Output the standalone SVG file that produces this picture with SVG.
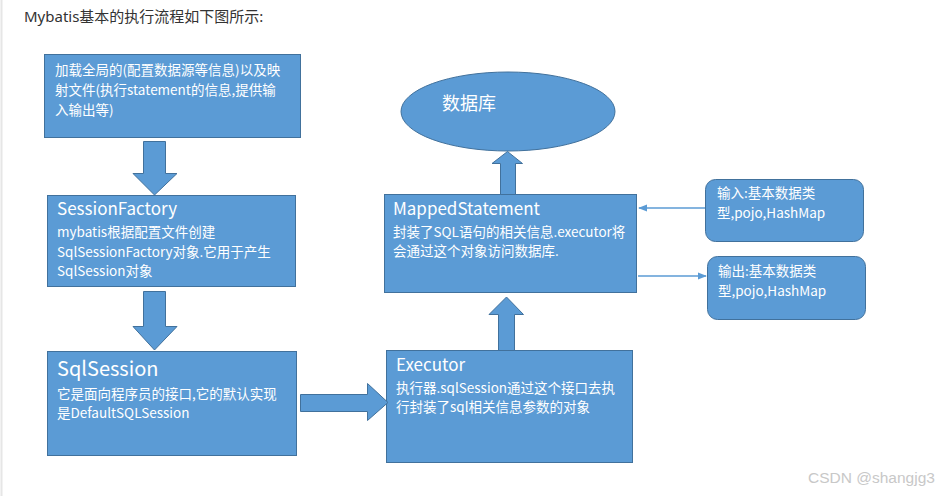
<svg xmlns="http://www.w3.org/2000/svg" width="941" height="496" viewBox="0 0 941 496">
<defs>
<style>
.shape{fill:#5b9bd5;stroke:#41719c;stroke-width:1}
.t{fill:#ffffff;font-family:"Noto Sans CJK SC","Liberation Sans",sans-serif}
.h{font-size:17px}
.b{font-size:13.5px}
.conn{stroke:#5b9bd5;stroke-width:1.3;fill:none}
</style>
<marker id="ah" viewBox="0 0 10 10" refX="9" refY="5" markerWidth="7" markerHeight="7" orient="auto-start-reverse">
<path d="M0,1 L10,5 L0,9 z" fill="#5b9bd5"/>
</marker>
</defs>
<rect width="941" height="496" fill="#ffffff"/>
<line x1="1.5" y1="0" x2="1.5" y2="496" stroke="#e6e6e6" stroke-width="2"/>
<text x="24" y="22" font-family="'Noto Sans','Noto Sans CJK SC',sans-serif" font-size="15" fill="#333333">Mybatis基本的执行流程如下图所示:</text>

<g id="config">
<rect class="shape" x="44.5" y="54.5" width="256" height="83"/>
<text class="t b" x="55" y="75">加载全局的(配置数据源等信息)以及映</text>
<text class="t b" x="55" y="95">射文件(执行statement的信息,提供输</text>
<text class="t b" x="55" y="115">入输出等)</text>
</g>

<g id="sessionFactory">
<rect class="shape" x="47.5" y="195.5" width="248" height="91"/>
<text class="t h" x="57" y="215">SessionFactory</text>
<text class="t b" x="57" y="237" font-size="13">mybatis根据配置文件创建</text>
<text class="t b" x="57" y="256.5" font-size="13">SqlSessionFactory对象.它用于产生</text>
<text class="t b" x="57" y="276" font-size="13">SqlSession对象</text>
</g>

<g id="sqlSession">
<rect class="shape" x="47.5" y="351.5" width="249" height="104"/>
<text class="t" x="57" y="376" font-size="20">SqlSession</text>
<text class="t b" x="57" y="399" font-size="14">它是面向程序员的接口,它的默认实现</text>
<text class="t b" x="57" y="418">是DefaultSQLSession</text>
</g>

<g id="executor">
<rect class="shape" x="386.5" y="350.5" width="246" height="112"/>
<text class="t h" x="396" y="371">Executor</text>
<text class="t b" x="396" y="393" font-size="14">执行器.sqlSession通过这个接口去执</text>
<text class="t b" x="396" y="412" font-size="14">行封装了sql相关信息参数的对象</text>
</g>

<g id="mappedStatement">
<rect class="shape" x="384.5" y="194.5" width="252" height="98"/>
<text class="t h" x="393" y="215">MappedStatement</text>
<text class="t b" x="393" y="237" font-size="14">封装了SQL语句的相关信息.executor将</text>
<text class="t b" x="393" y="256" font-size="14">会通过这个对象访问数据库.</text>
</g>

<g id="database">
<ellipse class="shape" cx="508" cy="111.5" rx="107" ry="39.5"/>
<text class="t" x="442" y="110" font-size="18">数据库</text>
</g>

<g id="input">
<rect class="shape" x="705.5" y="179.5" width="158" height="62" rx="10" ry="10"/>
<text class="t b" x="717" y="198" font-size="13">输入:基本数据类</text>
<text class="t b" x="717" y="218" font-size="13">型,pojo,HashMap</text>
</g>

<g id="output">
<rect class="shape" x="707.5" y="256.5" width="158" height="63" rx="10" ry="10"/>
<text class="t b" x="718" y="276" font-size="13">输出:基本数据类</text>
<text class="t b" x="718" y="296" font-size="13">型,pojo,HashMap</text>
</g>

<g id="connectors">
<path class="shape" d="M143.5,141.5 H165.5 V173.5 H177 L154.5,195 L133,173.5 H143.5 Z"/>
<path class="shape" d="M143.5,291.5 H165.5 V326.5 H177 L154.5,350 L133,326.5 H143.5 Z"/>
<path class="shape" d="M300.5,394.5 V411.5 H367.5 V420.5 L388,402.5 L367.5,383.5 V394.5 Z"/>
<path class="shape" d="M498.5,350.5 V314.5 H489 L506.5,297 L523.5,314.5 H514.5 V350.5 Z"/>
<path class="shape" d="M500.5,194.5 V163.5 H492 L507.5,151.5 L522.5,163.5 H515.5 V194.5 Z"/>
<line class="conn" x1="705" y1="208" x2="639" y2="208" marker-end="url(#ah)"/>
<line class="conn" x1="638" y1="276" x2="706" y2="276" marker-end="url(#ah)"/>
</g>

<text x="808" y="483" font-family="'Liberation Sans',sans-serif" font-size="15.5" fill="#c8c8c8">CSDN @shangjg3</text>
</svg>
